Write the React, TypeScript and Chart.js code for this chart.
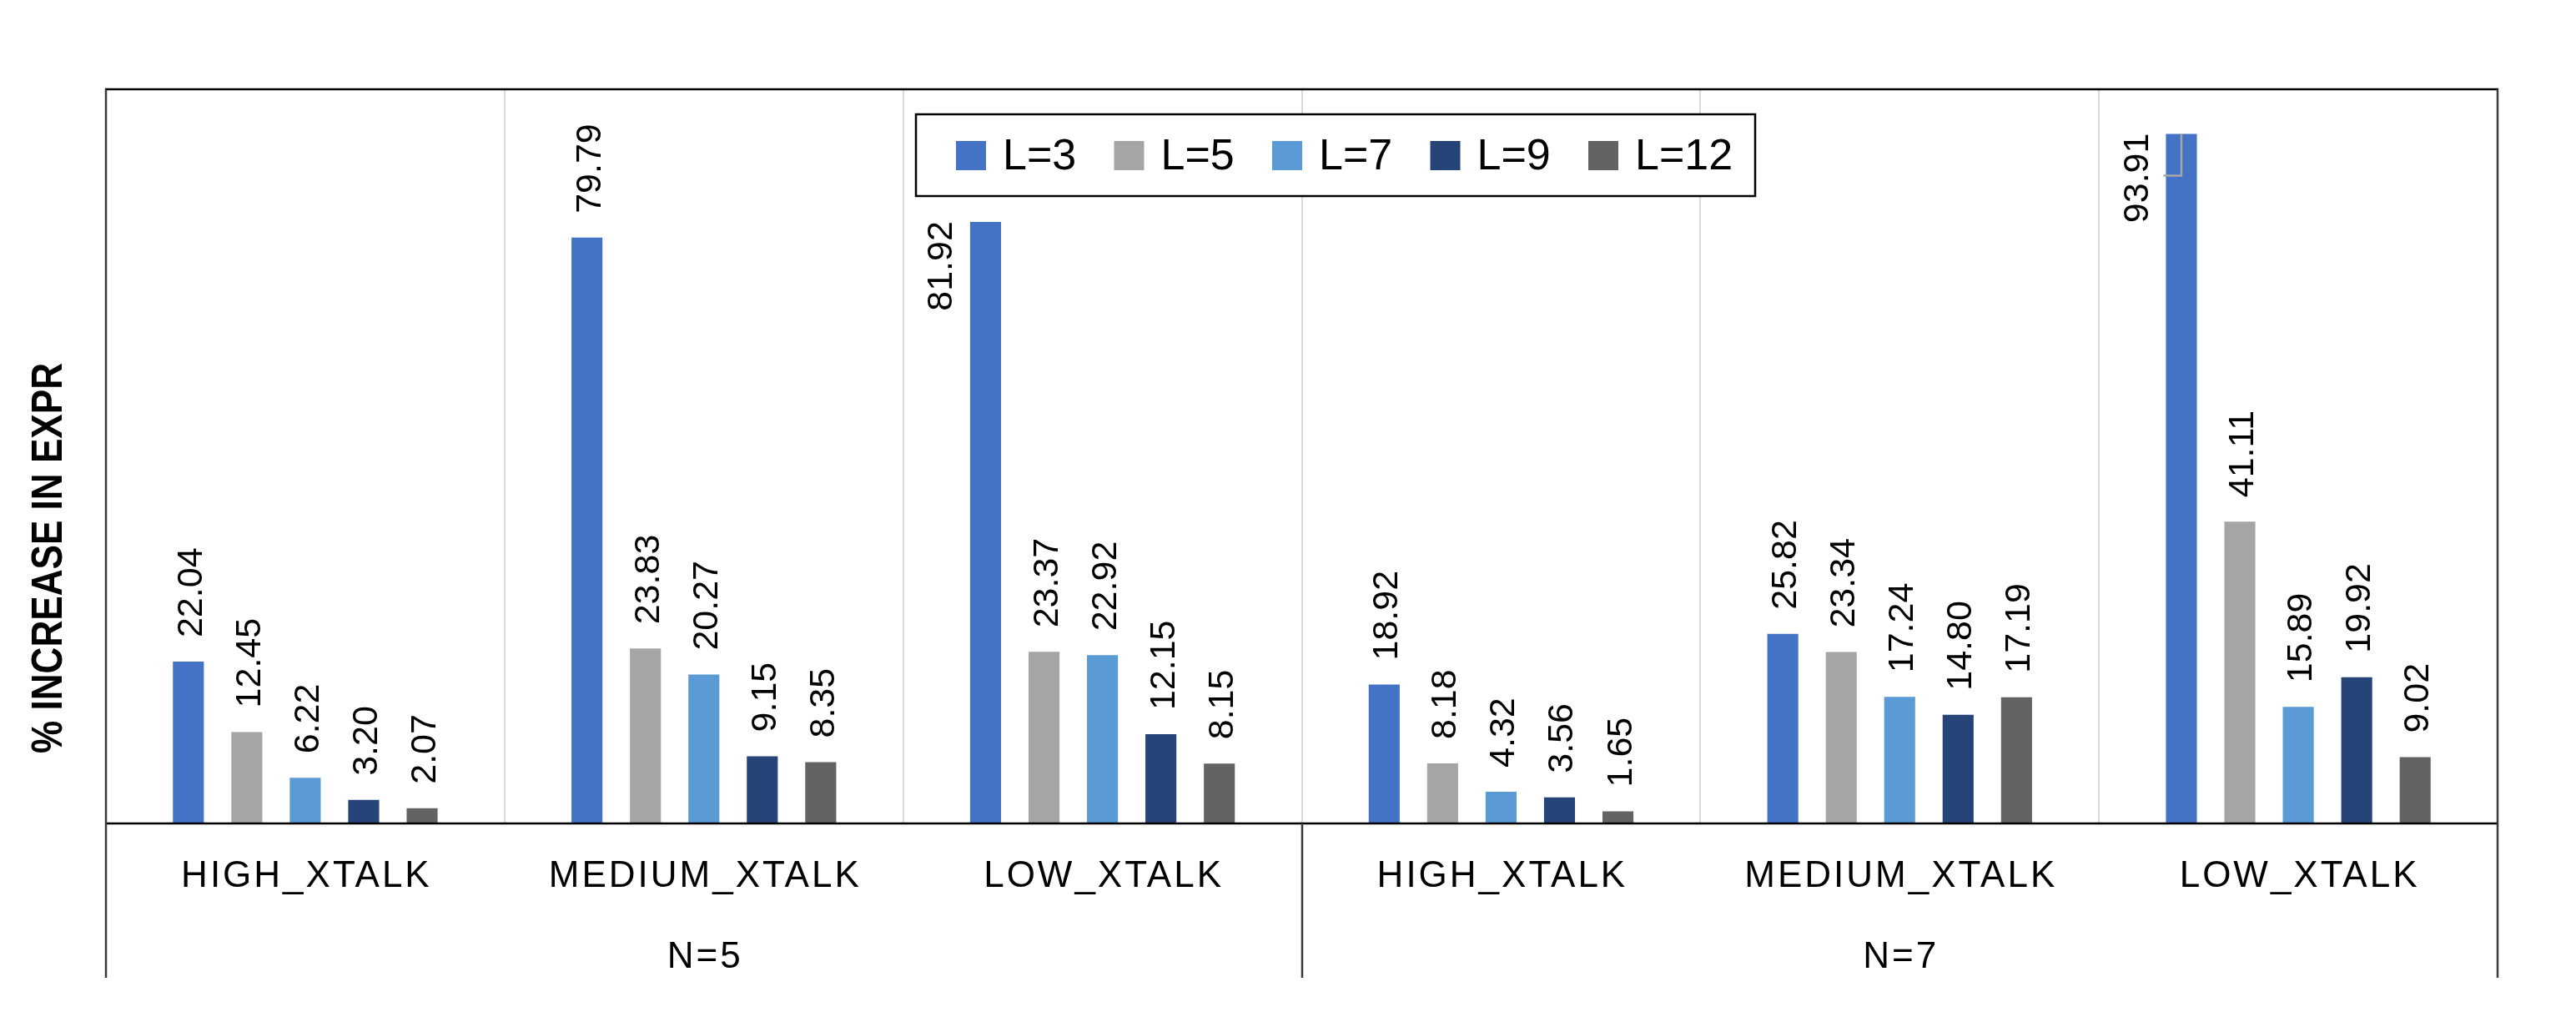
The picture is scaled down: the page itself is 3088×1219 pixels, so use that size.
import React, { useEffect, useRef } from "react";
import { Chart, registerables } from "chart.js";

Chart.register(...registerables);

// ---------- data ----------
const categories = ["HIGH_XTALK", "MEDIUM_XTALK", "LOW_XTALK", "HIGH_XTALK", "MEDIUM_XTALK", "LOW_XTALK"];
const groups = ["N=5", "N=7"];
const groupSize = 3;
const seriesLabels = ["L=3", "L=5", "L=7", "L=9", "L=12"];
const l3 = [22.04, 79.79, 81.92, 18.92, 25.82, 93.91];
const l5 = [12.45, 23.83, 23.37, 8.18, 23.34, 41.11];
const l7 = [6.22, 20.27, 22.92, 4.32, 17.24, 15.89];
const l9 = [3.2, 9.15, 12.15, 3.56, 14.8, 19.92];
const l12 = [2.07, 8.35, 8.15, 1.65, 17.19, 9.02];
const seriesValues = [l3, l5, l7, l9, l12];
const seriesColors = ["#4472C4", "#A5A5A5", "#5B9BD5", "#264478", "#636363"];
const yTitle = "% INCREASE IN EXPR";
const yMin = 0;
const yMax = 100;
// labels moved to the left of their bar: [datasetIndex, pointIndex]
const sideLabels = [
  [0, 2],
  [0, 5],
];
// labels with a leader line
const leaderLabels = [[0, 5]];

const FONT = "'Liberation Sans', Arial, sans-serif";

const has = (list: number[][], d: number, i: number) => list.some(([a, b]) => a === d && b === i);

const customPlugin = {
  id: "customDraw",
  beforeDatasetsDraw(chart: any) {
    const { ctx, chartArea: a, scales } = chart;
    const x = scales.x;
    ctx.save();
    ctx.strokeStyle = "#d9d9d9";
    ctx.lineWidth = 2;
    for (let i = 0; i < categories.length - 1; i++) {
      const px = Math.round((x.getPixelForTick(i) + x.getPixelForTick(i + 1)) / 2);
      ctx.beginPath();
      ctx.moveTo(px, a.top);
      ctx.lineTo(px, a.bottom);
      ctx.stroke();
    }
    ctx.restore();
  },
  afterDatasetsDraw(chart: any) {
    const { ctx, chartArea: a, scales } = chart;
    const x = scales.x;
    const axisBottom = a.bottom + 185;

    // ---- data labels ----
    ctx.save();
    ctx.fillStyle = "#000";
    ctx.font = `43px ${FONT}`;
    chart.data.datasets.forEach((ds: any, d: number) => {
      const meta = chart.getDatasetMeta(d);
      meta.data.forEach((el: any, i: number) => {
        const v = ds.data[i];
        const text = Number(v).toFixed(2);
        ctx.save();
        if (has(sideLabels, d, i)) {
          ctx.translate(el.x - 55, el.y - 1);
          ctx.rotate(-Math.PI / 2);
          ctx.textAlign = "right";
        } else {
          ctx.translate(el.x + 1, el.y - 29);
          ctx.rotate(-Math.PI / 2);
          ctx.textAlign = "left";
        }
        ctx.textBaseline = "alphabetic";
        ctx.fillText(text, 0, 15);
        ctx.restore();
        if (has(leaderLabels, d, i)) {
          ctx.save();
          ctx.strokeStyle = "#a6a6a6";
          ctx.lineWidth = 2.5;
          ctx.beginPath();
          ctx.moveTo(el.x - el.width / 2 - 3, el.y + 50);
          ctx.lineTo(el.x, el.y + 50);
          ctx.lineTo(el.x, el.y);
          ctx.stroke();
          ctx.restore();
        }
      });
    });
    ctx.restore();

    // ---- frame lines ----
    ctx.save();
    ctx.lineCap = "butt";
    ctx.strokeStyle = "#000";
    ctx.lineWidth = 2.5;
    ctx.beginPath();
    ctx.moveTo(a.left - 1, a.top);
    ctx.lineTo(a.right + 1, a.top);
    ctx.stroke();
    ctx.lineWidth = 2.5;
    ctx.beginPath();
    ctx.moveTo(a.left, a.bottom);
    ctx.lineTo(a.right, a.bottom);
    ctx.stroke();
    ctx.strokeStyle = "#3a3a3a";
    ctx.lineWidth = 2.5;
    const verticals = [a.left, a.right];
    for (let g = 1; g < groups.length; g++) {
      const i = g * groupSize;
      verticals.push(Math.round((x.getPixelForTick(i - 1) + x.getPixelForTick(i)) / 2));
    }
    verticals.forEach((px, k) => {
      ctx.beginPath();
      ctx.moveTo(px, k < 2 ? a.top : a.bottom);
      ctx.lineTo(px, axisBottom);
      ctx.stroke();
    });
    ctx.restore();

    // ---- category labels ----
    ctx.save();
    ctx.fillStyle = "#000";
    ctx.font = `44px ${FONT}`;
    (ctx as any).letterSpacing = "3px";
    ctx.textAlign = "center";
    ctx.textBaseline = "alphabetic";
    categories.forEach((c, i) => {
      ctx.fillText(c, x.getPixelForTick(i) + 1.5, a.bottom + 76);
    });
    groups.forEach((g, k) => {
      const cx = (x.getPixelForTick(k * groupSize) + x.getPixelForTick(k * groupSize + groupSize - 1)) / 2;
      ctx.fillText(g, cx + 1.5, a.bottom + 173);
    });
    ctx.restore();

    // ---- y title ----
    ctx.save();
    ctx.fillStyle = "#000";
    ctx.font = `bold 52px ${FONT}`;
    const w = ctx.measureText(yTitle).width;
    ctx.translate(74, 669);
    ctx.rotate(-Math.PI / 2);
    ctx.scale(468 / w, 1);
    ctx.textAlign = "center";
    ctx.textBaseline = "alphabetic";
    ctx.fillText(yTitle, 0, 0);
    ctx.restore();

    // ---- legend ----
    ctx.save();
    const lx = 1098, ly = 137, lw = 1006, lh = 98;
    ctx.fillStyle = "#fff";
    ctx.fillRect(lx, ly, lw, lh);
    ctx.strokeStyle = "#000";
    ctx.lineWidth = 2.5;
    ctx.strokeRect(lx, ly, lw, lh);
    ctx.font = `52px ${FONT}`;
    ctx.textBaseline = "alphabetic";
    ctx.textAlign = "left";
    chart.data.datasets.forEach((ds: any, d: number) => {
      const mx = 1146 + d * 189.5;
      ctx.fillStyle = ds.backgroundColor;
      ctx.fillRect(mx, 169, 36, 35);
      ctx.fillStyle = "#000";
      ctx.fillText(ds.label, mx + 56, 203);
    });
    ctx.restore();
  },
};

export default function App() {
  const ref = useRef<HTMLCanvasElement | null>(null);

  useEffect(() => {
    document.body.style.margin = "0";
    if (!ref.current) return;
    const chart = new Chart(ref.current, {
      type: "bar",
      data: {
        labels: categories,
        datasets: seriesLabels.map((label, k) => ({
          label,
          data: seriesValues[k],
          backgroundColor: seriesColors[k],
          borderWidth: 0,
          categoryPercentage: 0.733,
          barPercentage: 0.53,
        })),
      },
      options: {
        animation: false,
        responsive: false,
        devicePixelRatio: 1,
        layout: { padding: { left: 127, top: 107, right: 94, bottom: 232 } },
        plugins: {
          legend: { display: false },
          tooltip: { enabled: false },
          title: { display: false },
        },
        events: [],
        scales: {
          x: { display: false, grid: { display: false } },
          y: { display: false, min: yMin, max: yMax, grid: { display: false } },
        },
      },
      plugins: [customPlugin],
    });
    return () => chart.destroy();
  }, []);

  return (
    <div style={{ position: "absolute", left: 0, top: 0, width: 3088, height: 1219, background: "#fff" }}>
      <canvas ref={ref} width={3088} height={1219} style={{ width: 3088, height: 1219, display: "block" }} />
    </div>
  );
}
